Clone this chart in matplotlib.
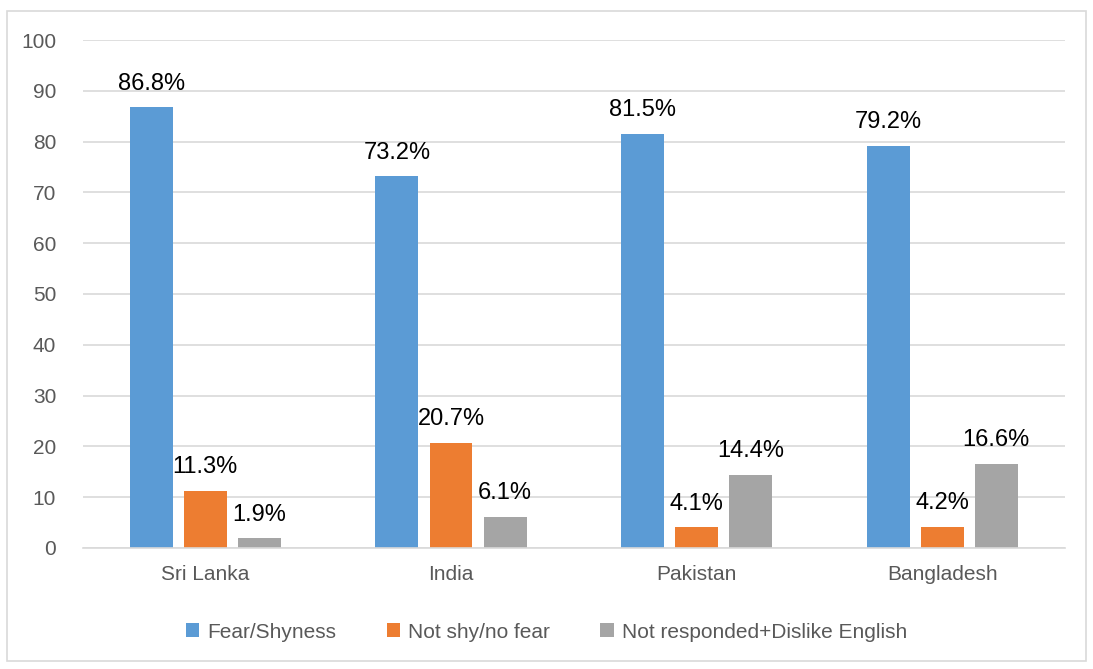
import matplotlib.pyplot as plt
import numpy as np
from matplotlib.patches import Rectangle

plt.rcParams['font.family'] = ['Liberation Sans', 'DejaVu Sans']

countries = ['Sri Lanka', 'India', 'Pakistan', 'Bangladesh']
series = ['Fear/Shyness', 'Not shy/no fear', 'Not responded+Dislike English']
fear = [86.8, 73.2, 81.5, 79.2]
not_shy = [11.3, 20.7, 4.1, 4.2]
not_resp = [1.9, 6.1, 14.4, 16.6]
colors = ['#5B9BD5', '#ED7D31', '#A5A5A5']

fig = plt.figure(figsize=(10.93, 6.69), dpi=100)
ax = fig.add_axes([0.0755, 0.1809, 0.899, 0.7593])

x = np.arange(len(countries))
w = 0.175
step = 0.22
for i, vals in enumerate([fear, not_shy, not_resp]):
    bars = ax.bar(x + (i - 1) * step, vals, w, color=colors[i], label=series[i])
    for b, v in zip(bars, vals):
        ax.annotate(f'{v}%', (b.get_x() + b.get_width() / 2, v),
                    xytext=(0, 9), textcoords='offset points',
                    ha='center', va='bottom', fontsize=17, color='black')

ax.set_xlim(-0.5, 3.5)
ax.set_ylim(0, 100)
ax.set_yticks(range(0, 101, 10))
ax.set_xticks(x)
ax.set_xticklabels(countries)
ax.tick_params(axis='both', length=0, labelsize=15, colors='#595959')
ax.tick_params(axis='x', pad=12)
ax.tick_params(axis='y', pad=19)
ax.grid(axis='y', color='#D9D9D9', linewidth=1.2)
ax.set_axisbelow(True)
for s in ['top', 'right', 'left']:
    ax.spines[s].set_visible(False)
ax.spines['bottom'].set_color('#D9D9D9')
ax.spines['bottom'].set_linewidth(1.2)

fig.legend(loc='center', bbox_to_anchor=(0.5, 0.055), ncol=3, frameon=False,
           fontsize=15, handlelength=0.65, handleheight=0.65, handletextpad=0.4,
           columnspacing=2.4, labelcolor='#595959')

fig.add_artist(Rectangle((0.006, 0.012), 0.988, 0.972, transform=fig.transFigure,
                         fill=False, edgecolor='#D9D9D9', linewidth=1.2))

fig.savefig('out.png', dpi=100)
